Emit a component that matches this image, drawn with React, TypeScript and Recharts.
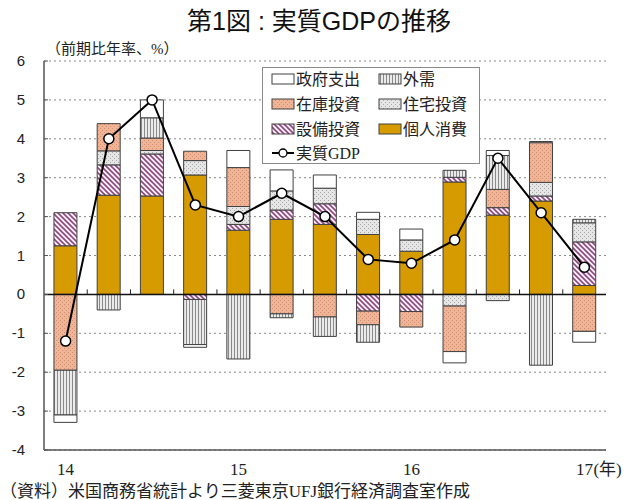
import React from 'react';
import {
  ComposedChart,
  Bar,
  Line,
  XAxis,
  YAxis,
  CartesianGrid,
  ReferenceLine,
  Legend,
} from 'recharts';

const quarters = ['14Q1', '14Q2', '14Q3', '14Q4', '15Q1', '15Q2', '15Q3', '15Q4', '16Q1', '16Q2', '16Q3', '16Q4', '17Q1'];
const xTickLabels = ['14', '', '', '', '15', '', '', '', '16', '', '', '', '17'];
const yTicks = [-4, -3, -2, -1, 0, 1, 2, 3, 4, 5, 6];

const consumption = [1.25, 2.55, 2.53, 3.07, 1.65, 1.93, 1.8, 1.54, 1.11, 2.89, 2.04, 2.4, 0.23];
const equipment = [0.85, 0.78, 1.08, -0.13, 0.15, 0.24, 0.53, -0.43, -0.44, 0.12, 0.19, 0.13, 1.12];
const housing = [0, 0.36, 0.09, 0.37, 0.46, 0.49, 0.4, 0.39, 0.29, -0.3, -0.16, 0.35, 0.49];
const inventory = [-1.95, 0.7, 0.32, 0.24, 1.0, -0.5, -0.58, -0.35, -0.4, -1.17, 0.47, 1.02, -0.95];
const netExports = [-1.15, -0.4, 0.52, -1.16, -1.66, -0.1, -0.5, -0.45, 0, 0.18, 0.87, -1.82, 0.09];
const government = [-0.19, 0, 0.46, -0.07, 0.44, 0.54, 0.34, 0.18, 0.28, -0.29, 0.13, 0.03, -0.28];
const gdp = [-1.2, 4.0, 5.0, 2.3, 2.0, 2.6, 2.0, 0.9, 0.8, 1.4, 3.5, 2.1, 0.7];

const data = quarters.map((q, i) => ({
  q,
  label: xTickLabels[i],
  consumption: consumption[i],
  equipment: equipment[i],
  housing: housing[i],
  inventory: inventory[i],
  netExports: netExports[i],
  government: government[i],
  gdp: gdp[i],
}));

const SERIF = "'Liberation Serif', 'DejaVu Serif', 'Noto Sans CJK JP', serif";
const SANS = "'Liberation Sans', Arial, 'Noto Sans CJK JP', sans-serif";

const FILL = {
  consumption: '#D69B00',
  equipment: 'url(#pEquip)',
  housing: 'url(#pHouse)',
  inventory: 'url(#pInv)',
  netExports: 'url(#pNet)',
  government: '#FFFFFF',
};
const BAR_STROKE = '#404040';

const legendItems = [
  { key: 'government', name: '政府支出', col: 0, row: 0 },
  { key: 'netExports', name: '外需', col: 1, row: 0 },
  { key: 'inventory', name: '在庫投資', col: 0, row: 1 },
  { key: 'housing', name: '住宅投資', col: 1, row: 1 },
  { key: 'equipment', name: '設備投資', col: 0, row: 2 },
  { key: 'consumption', name: '個人消費', col: 1, row: 2 },
  { key: 'gdp', name: '実質GDP', col: 0, row: 3 },
];

const Patterns = () => (
  <defs>
    <pattern id="pInv" width="4" height="4" patternUnits="userSpaceOnUse">
      <rect width="4" height="4" fill="#F0B496" />
      <rect x="0" y="0" width="1" height="1" fill="#D08E70" />
      <rect x="2" y="2" width="1" height="1" fill="#D08E70" />
    </pattern>
    <pattern id="pHouse" width="4" height="4" patternUnits="userSpaceOnUse">
      <rect width="4" height="4" fill="#E6E6E6" />
      <rect x="0" y="0" width="1" height="1" fill="#A8A8A8" />
      <rect x="2" y="2" width="1" height="1" fill="#A8A8A8" />
    </pattern>
    <pattern id="pEquip" width="5" height="5" patternUnits="userSpaceOnUse">
      <rect width="5" height="5" fill="#FAF0F6" />
      <path d="M-1,-1 L6,6 M-1,4 L1,6 M4,-1 L6,1" stroke="#8C4A80" strokeWidth="1.6" />
    </pattern>
    <pattern id="pNet" width="3" height="3" patternUnits="userSpaceOnUse">
      <rect width="3" height="3" fill="#EBEBEB" />
      <rect x="0" y="0" width="1" height="3" fill="#8A8A8A" />
    </pattern>
  </defs>
);

const YTick = (props: any) => {
  const { x, y, payload } = props;
  return (
    <g>
      <line x1={x} x2={x + 4} y1={y} y2={y} stroke="#555" strokeWidth={1} />
      <text x={x - 19} y={y + 5} textAnchor="end" fontFamily={SANS} fontSize={15} fill="#222">
        {payload.value}
      </text>
    </g>
  );
};

const XTick = (props: any) => {
  const { x, y, index } = props;
  const label = xTickLabels[index];
  if (!label) return null;
  const isLast = index === quarters.length - 1;
  return (
    <g>
      <text x={x} y={y + 25} textAnchor="middle" fontFamily={SERIF} fontSize={17} fill="#222">
        {label}
      </text>
      {isLast && (
        <text x={x + 9} y={y + 25} textAnchor="start" fontFamily={SERIF} fontSize={17} fill="#222">
          (年)
        </text>
      )}
    </g>
  );
};

const ZeroLine = (props: any) => {
  const { x1, x2, y1 } = props;
  if (x1 == null) return null;
  const n = quarters.length;
  const step = (x2 - x1) / n;
  const ticks = [];
  for (let k = 1; k < n; k++) {
    const xx = x1 + step * k;
    ticks.push(<line key={k} x1={xx} x2={xx} y1={y1} y2={y1 - 5} stroke="#222" strokeWidth={1} />);
  }
  return (
    <g>
      <line x1={x1} x2={x2} y1={y1} y2={y1} stroke="#111" strokeWidth={1.5} />
      {ticks}
    </g>
  );
};

const LegendBox = () => {
  const rowY = [11, 36, 61, 85];
  const colX = [9, 116];
  return (
    <div style={{ width: 218, height: 97, border: '1px solid #8a8a8a', background: '#fff', boxSizing: 'border-box' }}>
      <svg width={216} height={95} style={{ display: 'block' }}>
        {legendItems.map((it) => {
          const sx = colX[it.col];
          const cy = rowY[it.row];
          return (
            <g key={it.key}>
              {it.key === 'gdp' ? (
                <g>
                  <line x1={sx} x2={sx + 22} y1={cy} y2={cy} stroke="#000" strokeWidth={2} />
                  <circle cx={sx + 11} cy={cy} r={4} fill="#fff" stroke="#000" strokeWidth={1.3} />
                </g>
              ) : (
                <rect x={sx} y={cy - 5} width={22} height={10} fill={(FILL as any)[it.key]} stroke={BAR_STROKE} strokeWidth={1} />
              )}
              <text x={sx + 24} y={cy + 6} fontFamily={SERIF} fontSize={16} fill="#222">
                {it.name}
              </text>
            </g>
          );
        })}
      </svg>
    </div>
  );
};

export default function App() {
  return (
    <div style={{ position: 'absolute', left: 0, top: 0, width: 632, height: 500, background: '#fff' }}>
      <div
        style={{
          position: 'absolute',
          left: 0,
          top: 6,
          width: 638,
          textAlign: 'center',
          fontFamily: "'Liberation Sans', Arial, 'Noto Sans CJK JP', sans-serif",
          fontSize: 25,
          lineHeight: '30px',
          color: '#111',
          fontWeight: 400,
        }}
      >
        第1図 : 実質GDPの推移
      </div>
      <div
        style={{
          position: 'absolute',
          left: 46,
          top: 40,
          fontFamily: SERIF,
          fontSize: 15,
          lineHeight: '18px',
          color: '#222',
          whiteSpace: 'nowrap',
        }}
      >
        （前期比年率、%）
      </div>
      <div style={{ position: 'absolute', left: 0, top: 0 }}>
        <ComposedChart
          width={632}
          height={500}
          data={data}
          margin={{ top: 61, right: 26, bottom: 0, left: 0 }}
          barCategoryGap="23%"
          stackOffset="sign"
        >
          <Patterns />
          <CartesianGrid horizontal vertical={false} stroke="#8a8a8a" strokeDasharray="2 3" />
          <XAxis
            dataKey="q"
            height={50}
            interval={0}
            tickLine={false}
            tickSize={0}
            tickMargin={0}
            axisLine={{ stroke: '#555', strokeWidth: 1.5 }}
            tick={<XTick />}
          />
          <XAxis
            xAxisId="top"
            dataKey="q"
            orientation="top"
            height={0}
            tick={false}
            tickLine={false}
            axisLine={{ stroke: '#555', strokeWidth: 1.5 }}
          />
          <YAxis
            width={44}
            domain={[-4, 6]}
            ticks={yTicks}
            interval={0}
            tickLine={false}
            tickSize={0}
            tickMargin={0}
            axisLine={{ stroke: '#555', strokeWidth: 1.5 }}
            tick={<YTick />}
          />
          <YAxis
            yAxisId="right"
            orientation="right"
            width={0}
            domain={[-4, 6]}
            ticks={yTicks}
            tick={false}
            tickLine={false}
            axisLine={{ stroke: '#555', strokeWidth: 1.5 }}
          />
          <Legend
            layout="horizontal"
            verticalAlign="middle"
            content={<LegendBox />}
            wrapperStyle={{ position: 'absolute', left: 262, top: 67, width: 218, height: 97 }}
          />
          <Bar dataKey="consumption" name="個人消費" stackId="s" fill={FILL.consumption} stroke={BAR_STROKE} strokeWidth={1} isAnimationActive={false} />
          <Bar dataKey="equipment" name="設備投資" stackId="s" fill={FILL.equipment} stroke={BAR_STROKE} strokeWidth={1} isAnimationActive={false} />
          <Bar dataKey="housing" name="住宅投資" stackId="s" fill={FILL.housing} stroke={BAR_STROKE} strokeWidth={1} isAnimationActive={false} />
          <Bar dataKey="inventory" name="在庫投資" stackId="s" fill={FILL.inventory} stroke={BAR_STROKE} strokeWidth={1} isAnimationActive={false} />
          <Bar dataKey="netExports" name="外需" stackId="s" fill={FILL.netExports} stroke={BAR_STROKE} strokeWidth={1} isAnimationActive={false} />
          <Bar dataKey="government" name="政府支出" stackId="s" fill={FILL.government} stroke={BAR_STROKE} strokeWidth={1} isAnimationActive={false} />
          <ReferenceLine y={0} shape={<ZeroLine />} />
          <Line
            dataKey="gdp"
            name="実質GDP"
            stroke="#000"
            strokeWidth={2}
            dot={{ r: 5, fill: '#fff', stroke: '#000', strokeWidth: 1.5 }}
            isAnimationActive={false}
          />
        </ComposedChart>
      </div>
      <div
        style={{
          position: 'absolute',
          left: 0,
          top: 482,
          fontFamily: SERIF,
          fontSize: 17,
          lineHeight: '20px',
          color: '#222',
          whiteSpace: 'nowrap',
        }}
      >
        （資料）米国商務省統計より三菱東京UFJ銀行経済調査室作成
      </div>
    </div>
  );
}
